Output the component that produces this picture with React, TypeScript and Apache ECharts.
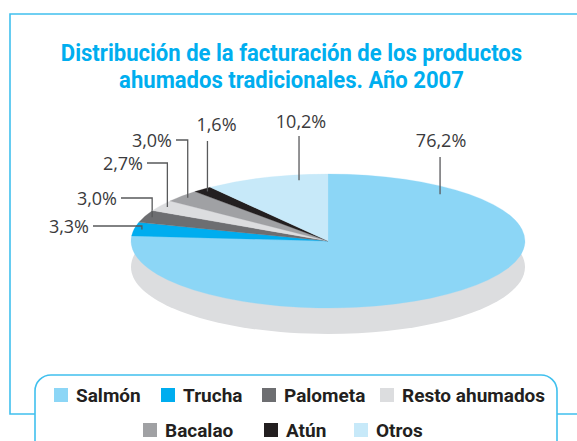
import React, { useEffect, useRef } from 'react';
import * as echarts from 'echarts';

// ---- data ----
const categories = ['Salmón', 'Trucha', 'Palometa', 'Resto ahumados', 'Bacalao', 'Atún', 'Otros'];
const values = [76.2, 3.3, 3.0, 2.7, 3.0, 1.6, 10.2];
const titleLines = ['Distribución de la facturación de los productos', 'ahumados tradicionales. Año 2007'];

// ---- styles / layout ----
const colors = ['#8cd6f6', '#00adef', '#6d6e71', '#dcdddf', '#a0a1a4', '#231f20', '#c7e9f9'];
const FRAME = '#40c0ee';
const SHADOW = '#dcdddf';
const LEADER = '#58595b';
const BOLD_FONT = "Roboto, 'Noto Sans', sans-serif";
const LABEL_FONT = "'Open Sans', 'Noto Sans', sans-serif";
const PIE = { cx: 328, cy: 241, rx: 197, ry: 67, shadowDy: 26 };

type LabelLayout = { kind: 'up' | 'left'; f: number; angle?: number; lineY: number; lineX?: number; textY?: number; textDx?: number };
const labelLayout: LabelLayout[] = [
  { kind: 'up', angle: -50.8, f: 0.9, lineY: 157, textY: 140, textDx: 1 },
  { kind: 'left', f: 0.96, lineY: 226, lineX: 93 },
  { kind: 'left', f: 0.96, lineY: 198, lineX: 121 },
  { kind: 'left', f: 0.96, lineY: 163, lineX: 147 },
  { kind: 'left', f: 0.96, lineY: 140, lineX: 176 },
  { kind: 'up', f: 0.96, lineY: 141, textY: 124, textDx: 9 },
  { kind: 'up', angle: -99.2, f: 0.92, lineY: 136, textY: 121, textDx: 2 },
];
const legendPos = [[54, 385], [161, 385], [262, 385], [380, 385], [143, 420], [264, 420], [354, 420]];

const fmt = (v: number) => v.toFixed(1).replace('.', ',') + '%';

function makeRender(i: number) {
  return (params: any, api: any) => {
    const total = values.reduce((a, b) => a + b, 0);
    const v = api.value(0);
    let before = 0;
    for (let k = 0; k < i; k++) before += values[k];
    const startDeg = (before / total) * 360 - 90;
    const endDeg = ((before + v) / total) * 360 - 90;
    const d2r = Math.PI / 180;
    const lay = labelLayout[i];
    const ang = (lay.angle !== undefined ? lay.angle : (startDeg + endDeg) / 2) * d2r;
    const ax = PIE.cx + lay.f * PIE.rx * Math.cos(ang);
    const ay = PIE.cy + lay.f * PIE.ry * Math.sin(ang);
    const children: any[] = [
      {
        type: 'group',
        x: PIE.cx,
        y: PIE.cy,
        scaleY: PIE.ry / PIE.rx,
        children: [
          {
            type: 'sector',
            shape: { cx: 0, cy: 0, r0: 0, r: PIE.rx, startAngle: startDeg * d2r, endAngle: endDeg * d2r, clockwise: true },
            style: { fill: colors[i], stroke: colors[i], lineWidth: 0.4 },
          },
        ],
      },
    ];
    const textStyle = { text: fmt(v), fill: '#3a3a3c', fontSize: 18, fontFamily: LABEL_FONT, verticalAlign: 'middle' };
    if (lay.kind === 'up') {
      children.push({
        type: 'polyline',
        shape: { points: [[ax, ay], [ax, lay.lineY]] },
        style: { stroke: LEADER, lineWidth: 1.3, fill: null },
      });
      children.push({
        type: 'text',
        x: ax + (lay.textDx || 0),
        y: lay.textY,
        style: { ...textStyle, align: 'center' },
      });
    } else {
      children.push({
        type: 'polyline',
        shape: { points: [[ax, ay], [ax, lay.lineY], [lay.lineX, lay.lineY]] },
        style: { stroke: LEADER, lineWidth: 1.3, fill: null },
      });
      children.push({
        type: 'text',
        x: (lay.lineX as number) - 4,
        y: lay.lineY,
        style: { ...textStyle, align: 'right' },
      });
    }
    return { type: 'group', children };
  };
}

export default function App() {
  const ref = useRef<HTMLDivElement>(null);
  useEffect(() => {
    if (!ref.current) return;
    const chart = echarts.init(ref.current, null, { renderer: 'svg' });
    const option: any = {
      animation: false,
      backgroundColor: '#ffffff',
      graphic: [
        {
          type: 'polyline',
          z: 0,
          shape: { points: [[590, 14], [10, 14], [10, 414], [590, 414]] },
          style: { stroke: FRAME, lineWidth: 1.6, fill: null },
        },
        {
          type: 'rect',
          z: 1,
          shape: { x: 35, y: 375, width: 522, height: 140, r: 16 },
          style: { fill: '#ffffff', stroke: FRAME, lineWidth: 1.6 },
        },
        {
          type: 'ellipse',
          z: 1,
          shape: { cx: PIE.cx, cy: PIE.cy + PIE.shadowDy, rx: PIE.rx, ry: PIE.ry },
          style: { fill: SHADOW },
        },
        {
          type: 'text',
          z: 5,
          x: 291.5,
          y: 40,
          scaleX: 0.96,
          style: {
            text: titleLines.join('\n'),
            align: 'center',
            verticalAlign: 'top',
            fontSize: 23,
            fontWeight: 'bold',
            fontFamily: BOLD_FONT,
            fill: '#00aeef',
            lineHeight: 27,
          },
        },
      ],
      legend: categories.map((c, i) => ({
        data: [c],
        left: legendPos[i][0],
        top: legendPos[i][1],
        padding: 0,
        icon: 'rect',
        itemWidth: 14,
        itemHeight: 14,
        selectedMode: false,
        textStyle: { fontSize: 19, fontWeight: 'bold', fontFamily: BOLD_FONT, color: '#231f20', lineHeight: 20, padding: [0, 0, 0, 3] },
      })),
      series: categories.map((c, i) => ({
        type: 'custom',
        name: c,
        coordinateSystem: 'none',
        silent: true,
        z: 3,
        itemStyle: { color: colors[i] },
        data: [[values[i]]],
        renderItem: makeRender(i),
      })),
    };
    chart.setOption(option);
    return () => chart.dispose();
  }, []);
  return <div ref={ref} style={{ position: 'fixed', left: 0, top: 0, width: 577, height: 441 }} />;
}
